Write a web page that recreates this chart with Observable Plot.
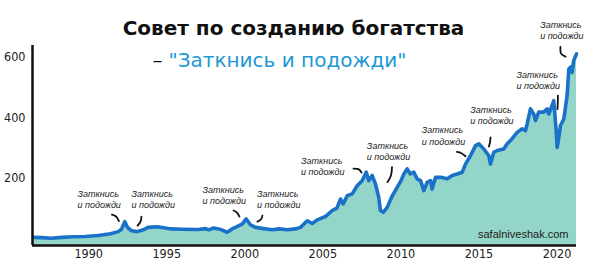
<!DOCTYPE html>
<html>
<head>
<meta charset="utf-8">
<script src="https://cdn.jsdelivr.net/npm/d3@7"></script>
<script src="https://cdn.jsdelivr.net/npm/@observablehq/plot@0.6"></script>
<style>
  html, body { margin: 0; padding: 0; background: #fff; }
  #chart { width: 590px; height: 265px; }
</style>
</head>
<body>
<div id="chart"></div>
<script>
// ---- data (index level, /100) ----
const years = [
  1986.45, 1987.0, 1987.55, 1988.3, 1989.0, 1989.8, 1990.6, 1991.4, 1991.9, 1992.1,
  1992.31, 1992.5, 1992.75, 1993.1, 1993.5, 1993.8, 1994.4, 1994.9, 1995.3, 1996.0,
  1997.0, 1997.5, 1997.7, 1998.0, 1998.4, 1998.87, 1999.19, 1999.83, 2000.09, 2000.37,
  2000.69, 2001.2, 2001.76, 2002.2, 2002.72, 2003.25, 2003.57, 2004.0, 2004.32, 2004.64,
  2005.17, 2005.6, 2005.9, 2006.13, 2006.3, 2006.56, 2006.88, 2007.2, 2007.52, 2007.78,
  2007.94, 2008.16, 2008.37, 2008.58, 2008.69, 2008.87, 2009.12, 2009.44, 2009.76, 2010.0,
  2010.19, 2010.4, 2010.61, 2010.83, 2011.04, 2011.26, 2011.47, 2011.68, 2011.9, 2012.0,
  2012.22, 2012.54, 2012.97, 2013.29, 2013.61, 2013.93, 2014.14, 2014.46, 2014.78, 2014.99,
  2015.31, 2015.63, 2015.74, 2015.95, 2016.17, 2016.59, 2016.81, 2017.02, 2017.45, 2017.77,
  2017.98, 2018.09, 2018.3, 2018.51, 2018.62, 2018.83, 2019.15, 2019.37, 2019.47, 2019.69,
  2019.79, 2019.95, 2020.01, 2020.12, 2020.22, 2020.44, 2020.65, 2020.76, 2020.86, 2020.97,
  2021.07, 2021.25
];
const values = [
  3, 2, 0, 3, 5, 6, 9, 15, 22, 30,
  55, 35, 25, 22, 28, 36, 38, 34, 31, 30,
  29, 32, 28, 34, 30, 20, 31, 47, 64, 44,
  36, 32, 28, 31, 28, 31, 36, 58, 49, 61,
  72, 92, 100, 130, 114, 141, 147, 174, 191, 219,
  191, 208, 180, 136, 92, 86, 102, 140, 169, 190,
  213, 230, 213, 219, 197, 191, 158, 185, 191, 163,
  202, 202, 197, 208, 213, 219, 246, 274, 307, 313,
  296, 274, 246, 285, 291, 296, 313, 324, 351, 363,
  357, 379, 429, 412, 390, 418, 418, 429, 412, 440,
  456, 357, 301, 335, 373, 396, 473, 562, 567, 550,
  589, 611
];

const xTicks = [1990, 1995, 2000, 2005, 2010, 2015, 2020];
const yTicks = [200, 400, 600];

const titleText = "Совет по созданию богатства";
const subtitleText = "\"Заткнись и подожди\"";
const annotationText = "Заткнись\nи подожди";
const sourceText = "safalniveshak.com";

// annotation label anchors (year, level)
const noteYears  = [1989.28, 1992.74, 1997.29, 2000.78, 2003.6, 2007.82, 2011.34, 2014.44, 2017.41, 2018.92];
const noteValues = [130, 130, 144, 130, 241, 289, 341, 408, 525, 690];

// little pointer strokes: 3 points each (year, level)
const pointerYears = [
  [1991.49, 1991.75, 1991.94],
  [1993.38, 1993.32, 1993.13],
  [1999.28, 1999.50, 1999.66],
  [2001.13, 2001.04, 2000.81],
  [2006.96, 2007.28, 2007.48],
  [2009.43, 2009.37, 2009.14],
  [2013.59, 2013.88, 2014.14],
  [2015.74, 2015.71, 2015.64],
  [2020.06, 2020.05, 2020.03],
  [2020.22, 2020.26, 2020.55]
];
const pointerValues = [
  [78, 72, 57],
  [72, 55, 42],
  [92, 85, 72],
  [75, 63, 55],
  [231, 229, 218],
  [236, 209, 186],
  [286, 282, 272],
  [334, 319, 304],
  [473, 451, 428],
  [634, 612, 602]
];

// ---- build tables ----
const series = years.map((y, i) => ({year: y, value: values[i]}));
const notes = noteYears.map((y, i) => ({year: y, value: noteValues[i]}));
const pointers = pointerYears.flatMap((ys, k) =>
  ys.map((y, j) => ({id: k, year: y, value: pointerValues[k][j]})));

const xDomain = [1986.4, 2021.25];
const yDomain = [-24, 639];
const tickFont = "'Liberation Sans Narrow', 'DejaVu Sans Condensed', 'Liberation Sans', sans-serif";
const textFont = "'Liberation Sans', Arial, sans-serif";
const titleFont = "'DejaVu Sans', sans-serif";

const chart = Plot.plot({
  width: 590,
  height: 265,
  marginLeft: 32,
  marginRight: 14,
  marginTop: 45,
  marginBottom: 20,
  style: {fontFamily: tickFont, fontSize: "12.5px", background: "#fff", color: "#222"},
  x: {domain: xDomain, ticks: xTicks, tickFormat: d => String(d), tickSize: 0, tickPadding: 4, label: null},
  y: {domain: yDomain, ticks: yTicks, tickSize: 0, tickPadding: 7, label: null},
  marks: [
    Plot.areaY(series, {x: "year", y1: yDomain[0], y2: "value", fill: "#93d5c9"}),
    Plot.lineY(series, {x: "year", y: "value", stroke: "#1a72c8", strokeWidth: 3.6, strokeLinejoin: "round", strokeLinecap: "round"}),
    Plot.ruleX([xDomain[0]], {stroke: "#111", strokeWidth: 2.5}),
    Plot.ruleY([yDomain[0]], {stroke: "#111", strokeWidth: 2.5}),
    Plot.line(pointers, {x: "year", y: "value", z: "id", curve: "natural", stroke: "#111", strokeWidth: 1.8, strokeLinecap: "round"}),
    Plot.text(notes, {x: "year", y: "value", text: () => annotationText, textAnchor: "start", lineAnchor: "middle",
      lineHeight: 1.25, fontSize: 9, fontStyle: "italic", fontFamily: textFont, fill: "#222"}),
    Plot.text([titleText], {frameAnchor: "top", dx: -11, dy: -25, fontSize: 20, fontWeight: "bold", fontFamily: titleFont, fill: "#111"}),
    Plot.text(["–"], {frameAnchor: "top-left", dx: 120, dy: 7, fontSize: 20, fontFamily: titleFont, fill: "#111"}),
    Plot.text([subtitleText], {frameAnchor: "top-left", dx: 136, dy: 7, textAnchor: "start", fontSize: 20, fontFamily: titleFont, fill: "#2198d4"}),
    Plot.text([sourceText], {frameAnchor: "bottom-right", dx: -8, dy: -8, textAnchor: "end", fontSize: 11, fontFamily: textFont, fill: "#222"})
  ]
});
document.getElementById("chart").appendChild(chart);
</script>
</body>
</html>
